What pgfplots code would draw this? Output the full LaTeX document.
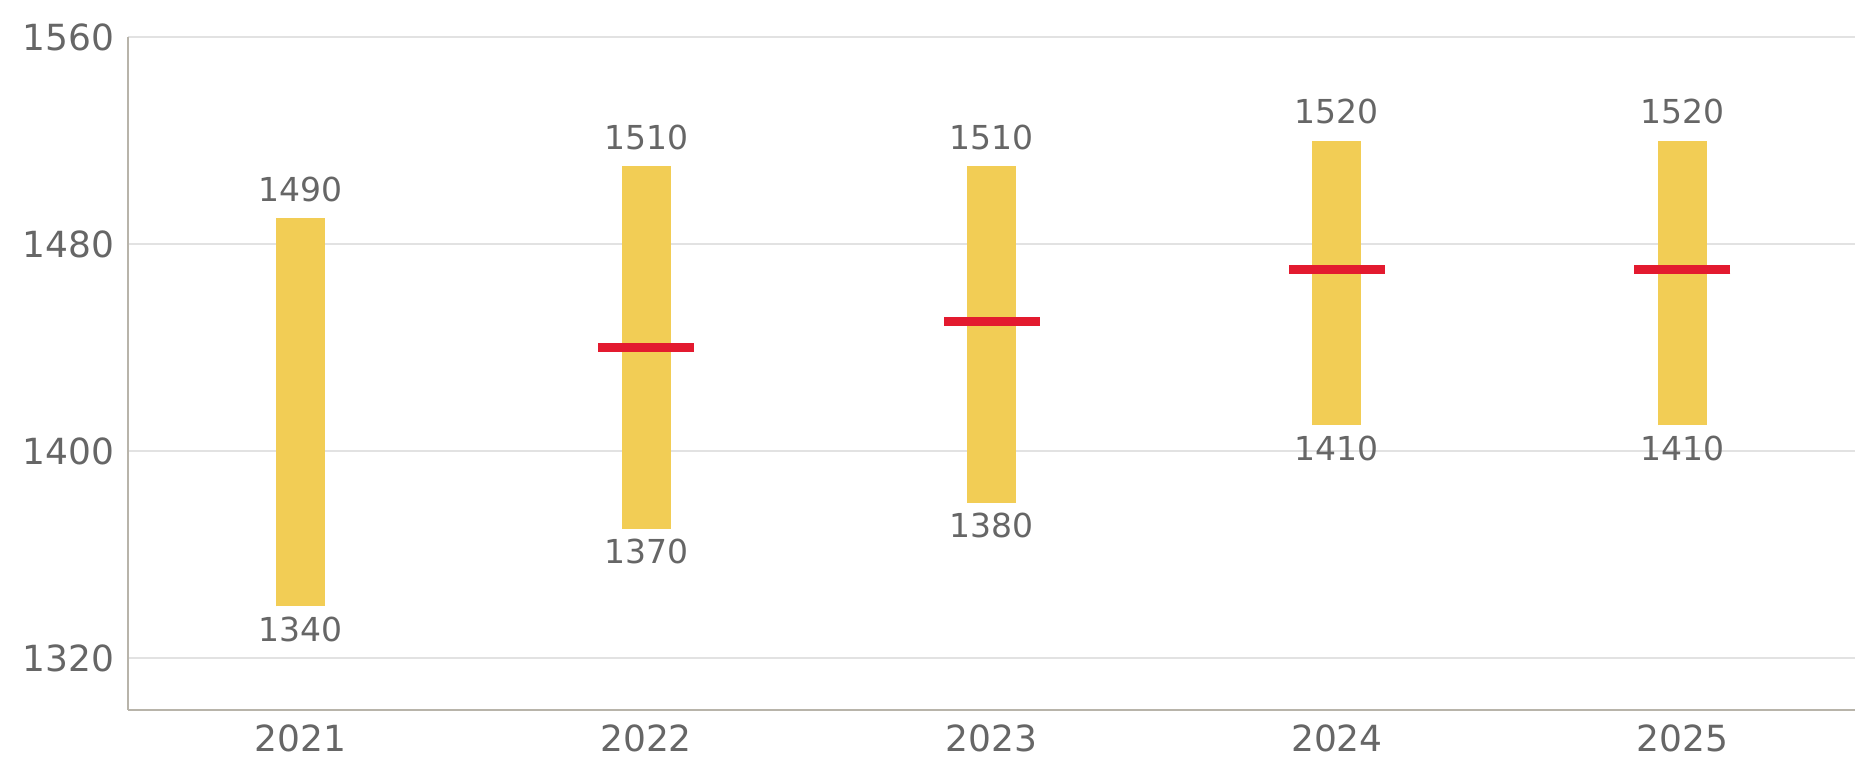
\documentclass[border=0pt]{standalone}
\usepackage{pgfplots}
\pgfplotsset{compat=1.18}
\usepackage{pgfplotstable}
\usepackage{fontspec}
\setmainfont{DejaVu Sans}
\definecolor{barc}{HTML}{F2CD55}
\definecolor{medc}{HTML}{E31A2F}
\definecolor{txt}{HTML}{666666}
\definecolor{spine}{HTML}{B8B4AA}
\definecolor{gridc}{HTML}{E2E2E2}
\pgfplotstableread{
x low high err
0 1340 1490 150
1 1370 1510 140
2 1380 1510 130
3 1410 1520 110
4 1410 1520 110
}\ranges
\pgfplotstableread{
x mid
1 1440
2 1450
3 1470
4 1470
}\medians
\begin{document}
\begin{tikzpicture}
\begin{axis}[
  scale only axis,
  width=690.8pt, height=269.2pt,
  xmin=-0.5, xmax=4.5,
  ymin=1300, ymax=1560,
  xtick={0,1,2,3,4},
  xticklabels={2021,2022,2023,2024,2025},
  ytick={1320,1400,1480,1560},
  axis x line*=bottom, axis y line*=left,
  axis line style={draw=spine, line width=0.9pt},
  major tick length=0pt,
  ymajorgrids, grid style={draw=gridc, line width=0.9pt},
  tick label style={font=\fontsize{14.4}{16}\selectfont, text=txt},
  yticklabel style={inner sep=0pt, anchor=east, xshift=-5.2pt},
  xticklabel style={inner sep=0pt, anchor=north, yshift=-5.6pt},
  /pgf/number format/assume math mode=true,
  /pgf/number format/1000 sep={},
  clip=false,
]
\addplot[draw=none, mark=none, forget plot,
  error bars/.cd, y dir=plus, y explicit, error mark=none,
  error bar style={draw=barc, line width=19.6pt}]
  table[x=x, y=low, y error plus=err] {\ranges};
\addplot[draw=none, mark=-, mark size=19.2pt,
  mark options={draw=medc, line width=3.6pt}]
  table[x=x, y=mid] {\medians};
\addplot[draw=none, mark=none, nodes near coords, point meta=y,
  every node near coord/.append style={font=\fontsize{13.2}{15}\selectfont, text=txt, anchor=base, inner sep=0pt, yshift=6.8pt}]
  table[x=x, y=high] {\ranges};
\addplot[draw=none, mark=none, nodes near coords, point meta=y,
  every node near coord/.append style={font=\fontsize{13.2}{15}\selectfont, text=txt, anchor=base, inner sep=0pt, yshift=-14pt}]
  table[x=x, y=low] {\ranges};
\coordinate (ll) at (rel axis cs:0,0);
\coordinate (ur) at (rel axis cs:1,1);
\end{axis}
\path ([shift={(-51.2pt,-28pt)}]ll) rectangle ([shift={(8pt,14.8pt)}]ur);
\end{tikzpicture}
\end{document}
